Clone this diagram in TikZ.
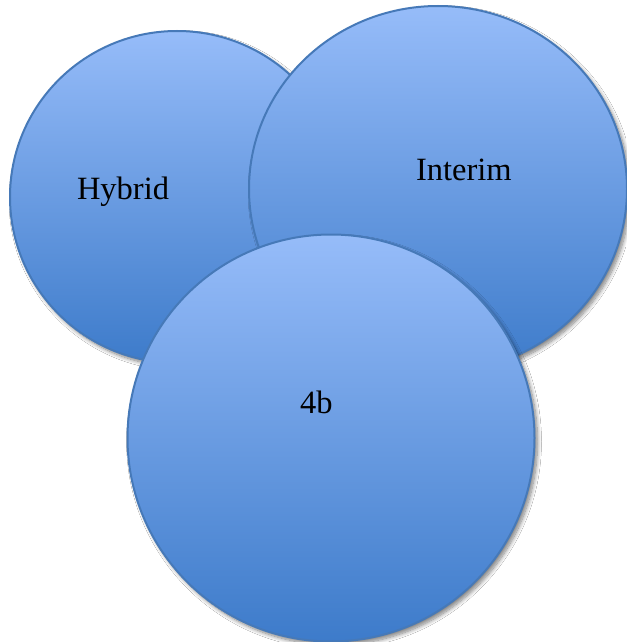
\documentclass[tikz,border=0pt]{standalone}
\usepackage{fontspec}
\setmainfont{Liberation Serif}
\usetikzlibrary{shapes.geometric,shadows.blur}
\definecolor{topblue}{HTML}{96BCF9}
\definecolor{midblue}{HTML}{7EA9EB}
\definecolor{botblue}{HTML}{3D7BCA}
\definecolor{edgeblue}{HTML}{4679B8}
\tikzset{
  bubble/.style={ellipse, inner sep=0pt, outer sep=0pt, draw=edgeblue, line width=2pt,
    top color=topblue, middle color=midblue, bottom color=botblue,
    blur shadow={shadow xshift=3pt, shadow yshift=-3.5pt, shadow blur radius=4pt,
      shadow blur steps=10, shadow opacity=50}},
  bubbletext/.style={anchor=base west, inner sep=0pt, outer sep=0pt, text=black,
    font=\fontsize{32.5}{38}\selectfont}
}
\begin{document}
\begin{tikzpicture}[x=1pt,y=-1pt]
\useasboundingbox (0,0) rectangle (626,642);
\fill[white] (0,0) rectangle (626,642);
\node[bubble, minimum width=334pt, minimum height=332pt] (hybrid) at (177,197) {};
\node[bubble, minimum width=378pt, minimum height=366pt] (interim) at (438,189) {};
\node[bubble, minimum width=407pt, minimum height=407pt] (fourb) at (331,438) {};
\node[bubbletext] (thybrid) at (77,199) {Hybrid};
\node[bubbletext] (tinterim) at (416,180) {Interim};
\node[bubbletext] (tfourb) at (300,413) {4b};
\end{tikzpicture}
\end{document}
